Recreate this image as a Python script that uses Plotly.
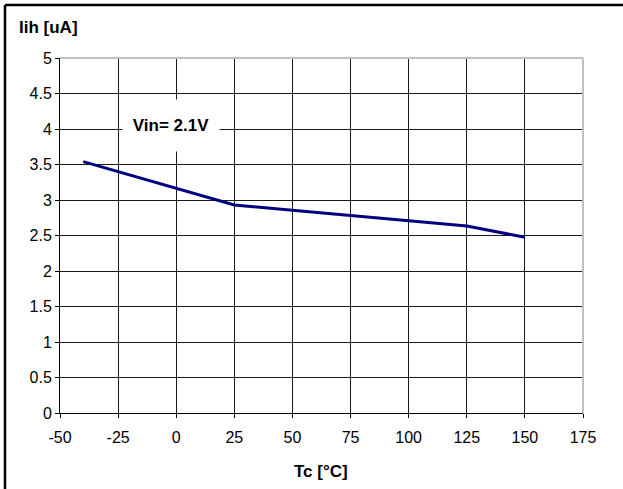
import plotly.graph_objects as go

temps = [-40, 25, 50, 75, 100, 125, 150]
iih = [3.54, 2.93, 2.855, 2.78, 2.71, 2.635, 2.475]

x_ticks = [-50, -25, 0, 25, 50, 75, 100, 125, 150, 175]
y_ticks = [0, 0.5, 1, 1.5, 2, 2.5, 3, 3.5, 4, 4.5, 5]

FONT = "Arial, Liberation Sans, sans-serif"
W, H = 623, 489
L, T = 60, 58
R = W - 583
B = H - 413
pw = W - L - R
ph = H - T - B

def px_x(p):
    return (p - L) / pw

def px_y(p):
    return (H - B - p) / ph

fig = go.Figure()
fig.add_trace(go.Scatter(x=temps, y=iih, mode="lines",
                         line=dict(color="#000080", width=3), showlegend=False,
                         hoverinfo="skip"))

fig.update_layout(
    width=W, height=H,
    margin=dict(l=L, r=R, t=T, b=B),
    paper_bgcolor="white", plot_bgcolor="white",
    font=dict(family=FONT, size=16, color="black"),
    xaxis=dict(range=[-50, 175], tickvals=x_ticks, ticktext=[str(v) for v in x_ticks],
               showgrid=True, gridcolor="#1a1a1a", gridwidth=1,
               showline=True, linecolor="black", linewidth=1,
               ticks="outside", ticklen=4, tickcolor="black",
               ticklabelstandoff=6,
               zeroline=False, fixedrange=True),
    yaxis=dict(range=[0, 5], tickvals=y_ticks, ticktext=[str(v) for v in y_ticks],
               showgrid=True, gridcolor="#1a1a1a", gridwidth=1,
               showline=True, linecolor="black", linewidth=1,
               ticks="outside", ticklen=4, tickcolor="black",
               zeroline=False, fixedrange=True),
    shapes=[
        dict(type="line", xref="paper", yref="paper", x0=0, x1=1, y0=1, y1=1,
             line=dict(color="#c0c0c0", width=2), layer="above"),
        dict(type="line", xref="paper", yref="paper", x0=1, x1=1, y0=0, y1=1,
             line=dict(color="#c0c0c0", width=2), layer="above"),
        dict(type="line", xref="paper", yref="paper",
             x0=px_x(5), x1=px_x(5), y0=px_y(H + 10), y1=px_y(5),
             line=dict(color="black", width=2.5)),
        dict(type="line", xref="paper", yref="paper",
             x0=px_x(5), x1=px_x(W + 10), y0=px_y(5), y1=px_y(5),
             line=dict(color="black", width=2.5)),
    ],
    annotations=[
        dict(text="<b>Iih [uA]</b>", xref="paper", yref="paper",
             x=px_x(17), y=px_y(28), xanchor="left", yanchor="middle",
             showarrow=False, font=dict(size=17)),
        dict(text="<b>Tc [°C]</b>", xref="paper", yref="paper",
             x=px_x(320.5), y=px_y(471), xanchor="center", yanchor="middle",
             showarrow=False, font=dict(size=17)),
        dict(text="<b>Vin= 2.1V</b>", xref="x", yref="y", x=-2.2, y=4.047,
             showarrow=False, bgcolor="white", width=90, height=45, borderpad=3,
             font=dict(size=17)),
    ],
)

fig.write_html("out.html", config={"displayModeBar": False},
               post_script="document.body.style.margin='0';")
